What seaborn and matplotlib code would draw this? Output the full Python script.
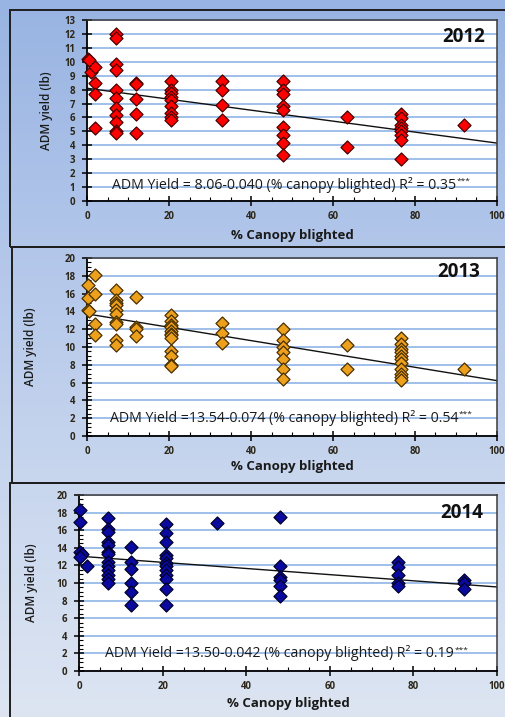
import numpy as np
import pandas as pd
import matplotlib
matplotlib.use("Agg")
import matplotlib.pyplot as plt
import matplotlib.patches as mpatches
from matplotlib.ticker import MultipleLocator
import seaborn as sns

# ---------------- data ----------------
years = ["2012", "2013", "2014"]

x_2012 = [0.3, 0.6, 1, 2, 2, 2, 2,
          7, 7, 7, 7, 7, 7, 7, 7, 7, 7, 7,
          12, 12, 12, 12, 12,
          20.5, 20.5, 20.5, 20.5, 20.5, 20.5, 20.5, 20.5, 20.5,
          33, 33, 33, 33,
          47.8, 47.8, 47.8, 47.8, 47.8, 47.8, 47.8, 47.8, 47.8,
          63.5, 63.5,
          76.5, 76.5, 76.5, 76.5, 76.5, 76.5, 76.5, 76.5,
          92]
y_2012 = [10.2, 10.1, 9.3, 9.65, 8.45, 7.65, 5.25,
          12.0, 11.7, 9.85, 9.4, 8.0, 7.4, 6.65, 6.2, 5.7, 5.0, 4.85,
          8.5, 8.4, 7.35, 6.25, 4.9,
          8.65, 8.0, 7.75, 7.5, 7.25, 6.8, 6.3, 6.05, 5.8,
          8.65, 8.0, 6.9, 5.8,
          8.65, 8.0, 7.7, 6.85, 6.55, 5.35, 4.75, 4.15, 3.3,
          6.0, 3.9,
          6.25, 5.95, 5.45, 5.25, 5.0, 4.75, 4.4, 3.05,
          5.45]

x_2013 = [0.3, 0.3, 0.3, 0.6,
          2, 2, 2, 2,
          7, 7, 7, 7, 7, 7, 7, 7, 7, 7,
          12, 12, 12, 12,
          20.5, 20.5, 20.5, 20.5, 20.5, 20.5, 20.5, 20.5, 20.5, 20.5, 20.5, 20.5,
          33, 33, 33,
          47.8, 47.8, 47.8, 47.8, 47.8, 47.8, 47.8,
          63.5, 63.5,
          76.5, 76.5, 76.5, 76.5, 76.5, 76.5, 76.5, 76.5, 76.5, 76.5, 76.5,
          92]
y_2013 = [17.0, 15.45, 14.2, 14.05,
          18.05, 16.0, 12.55, 11.3,
          16.45, 15.25, 15.0, 14.7, 14.2, 13.75, 12.8, 12.6, 10.8, 10.2,
          15.6, 12.3, 12.05, 11.25,
          13.55, 12.9, 12.45, 12.25, 11.85, 11.5, 11.3, 11.0, 9.6, 8.95, 7.95, 7.85,
          12.7, 11.6, 10.5,
          12.05, 10.8, 10.0, 9.45, 8.6, 7.55, 6.35,
          10.2, 7.55,
          11.05, 10.35, 9.8, 9.45, 8.95, 8.6, 8.15, 7.55, 7.0, 6.6, 6.25,
          7.55]

x_2014 = [0.3, 0.3, 0.3, 0.6, 0.3,
          2,
          7, 7, 7, 7, 7, 7, 7, 7, 7, 7, 7, 7, 7,
          12.5, 12.5, 12.5, 12.5, 12.5, 12.5,
          20.8, 20.8, 20.8, 20.8, 20.8, 20.8, 20.8, 20.8, 20.8, 20.8, 20.8, 20.8,
          33,
          48, 48, 48, 48, 48, 48,
          76.2, 76.2, 76.2, 76.2, 76.2,
          92.2, 92.2, 92.2]
y_2014 = [18.35, 16.95, 13.55, 13.3, 12.9,
          11.95,
          17.35, 16.1, 15.75, 14.7, 14.3, 13.55, 13.3, 12.4, 11.9, 11.45, 10.95, 10.5, 10.05,
          14.05, 12.4, 11.55, 10.05, 9.0, 7.5,
          16.65, 15.7, 14.7, 13.15, 12.8, 12.3, 11.9, 11.45, 10.9, 10.5, 9.35, 7.5,
          16.8,
          17.5, 11.95, 10.65, 10.3, 9.65, 8.5,
          12.35, 11.85, 10.9, 10.0, 9.65,
          10.3, 9.95, 9.35]

# fitted trend lines (as drawn)
fit_intercept = [8.10, 13.72, 13.05]
fit_slope = [-0.0394, -0.075, -0.035]

equations = [
    "ADM Yield = 8.06-0.040 (% canopy blighted) R\u00b2 = 0.35",
    "ADM Yield =13.54-0.074 (% canopy blighted) R\u00b2 = 0.54",
    "ADM Yield =13.50-0.042 (% canopy blighted) R\u00b2 = 0.19",
]
signif = ["***", "***", "***"]
y_max = [13, 20, 20]
y_step = [1, 2, 2]
x_ticks = [0, 20, 40, 60, 80, 100]

xs = [x_2012, x_2013, x_2014]
ys = [y_2012, y_2013, y_2014]

# ---------------- style ----------------
sns.set_theme(style="white")
plt.rcParams["font.family"] = ["Open Sans", "DejaVu Sans"]

marker_colors = ["#ff0000", "#eda01c", "#0a0aa0"]
marker_edges = ["#4a0000", "#4a3000", "#000028"]
grid_color = "#9fc0ea"
tick_color = "#2b2618"

W, H = 506, 717
fig = plt.figure(figsize=(W / 100, H / 100), dpi=100)

# background gradient
bg = fig.add_axes([0, 0, 1, 1], zorder=-10)
stops_y = np.array([0, 245, 480, 717]) / H
stops_c = np.array([[152, 180, 226], [178, 198, 234], [200, 214, 238], [221, 229, 242]]) / 255.0
yy = np.linspace(0, 1, 300)
grad = np.stack([np.interp(yy, stops_y, stops_c[:, i]) for i in range(3)], axis=-1)
grad = np.repeat(grad[:, None, :], 2, axis=1)
bg.imshow(grad, aspect="auto", extent=[0, 1, 1, 0])
bg.set_xlim(0, 1)
bg.set_ylim(1, 0)
bg.axis("off")

# panel frames (pixel coords: left, top, bottom)
frames = [(10, 10, 247), (12, 247, 483), (10, 483, 740)]
for (l, t, b) in frames:
    rect = mpatches.Rectangle((l / W, 1 - b / H), (W + 20 - l) / W, (b - t) / H,
                              transform=fig.transFigure, fill=False,
                              edgecolor="#1e1e1e", lw=1.4, clip_on=False, zorder=-5)
    fig.add_artist(rect)

# axes boxes (pixel coords: left, right, top, bottom)
boxes = [(87, 497, 20, 201), (87, 497, 258, 436), (79, 497, 495, 671)]
ylabel_x = [-0.083, -0.122, -0.098]
xlabel_y = [-0.155, -0.135, -0.148]
year_pos = [(0.97, 0.905), (0.96, 0.92), (0.968, 0.90)]
eq_y = [0.088, 0.10, 0.10]

for i in range(3):
    l, r, t, b = boxes[i]
    ax = fig.add_axes([l / W, 1 - b / H, (r - l) / W, (b - t) / H])
    ax.set_facecolor("white")
    df = pd.DataFrame({"x": xs[i], "y": ys[i]})

    ax.set_xlim(0, 100)
    ax.set_ylim(0, y_max[i])
    ax.set_yticks(np.arange(0, y_max[i] + 0.01, y_step[i]))
    ax.set_xticks(x_ticks)
    ax.xaxis.set_minor_locator(MultipleLocator(5))
    if i > 0:
        ax.yaxis.set_minor_locator(MultipleLocator(0.5))
    ax.grid(True, axis="y", color=grid_color, lw=1.4, zorder=0)
    ax.set_axisbelow(True)

    # trend line
    lx = np.array([0, 100])
    ax.plot(lx, fit_intercept[i] + fit_slope[i] * lx, color="#111111", lw=1.0, zorder=2)

    sns.scatterplot(data=df, x="x", y="y", ax=ax, marker="D", s=44,
                    color=marker_colors[i], edgecolor=marker_edges[i],
                    linewidth=0.9, zorder=3, clip_on=False, legend=False)

    for side in ["left", "bottom"]:
        ax.spines[side].set_color("#000000")
        ax.spines[side].set_linewidth(1.3)
    for side in ["top", "right"]:
        ax.spines[side].set_color("#3a3a3a")
        ax.spines[side].set_linewidth(1.1)

    ax.tick_params(axis="both", which="major", direction="inout", length=7, width=1.1,
                   color="#000000", labelsize=6.9, labelcolor=tick_color,
                   left=True, bottom=True)
    ax.tick_params(axis="x", which="major", pad=4)
    ax.tick_params(axis="y", which="major", pad=5)
    ax.tick_params(axis="both", which="minor", direction="in", length=3, width=0.8,
                   color="#000000", left=True, bottom=True)
    for lab in ax.get_xticklabels() + ax.get_yticklabels():
        lab.set_fontweight("bold")

    ax.set_xlabel("% Canopy blighted", fontsize=9.5, fontweight="bold", color="#1a1a1a")
    ax.set_ylabel("ADM yield (lb)", fontsize=8.5, fontweight="semibold", color="#1a1a1a")
    ax.xaxis.set_label_coords(0.5, xlabel_y[i])
    ax.yaxis.set_label_coords(ylabel_x[i], 0.5)

    ax.text(year_pos[i][0], year_pos[i][1], years[i], transform=ax.transAxes,
            ha="right", va="center", fontsize=13.5, fontweight="bold", color="#111111")
    eq = ax.text(0.48, eq_y[i], equations[i], transform=ax.transAxes, ha="center",
                 va="center", fontsize=10.2, color="#1a1a1a", zorder=4)
    fig.canvas.draw()
    bb = eq.get_window_extent().transformed(ax.transAxes.inverted())
    ax.text(bb.x1 + 0.002, eq_y[i] + 0.02, signif[i], transform=ax.transAxes,
            ha="left", va="center", fontsize=6, color="#1a1a1a", zorder=4)

fig.savefig("out.png", dpi=100)
